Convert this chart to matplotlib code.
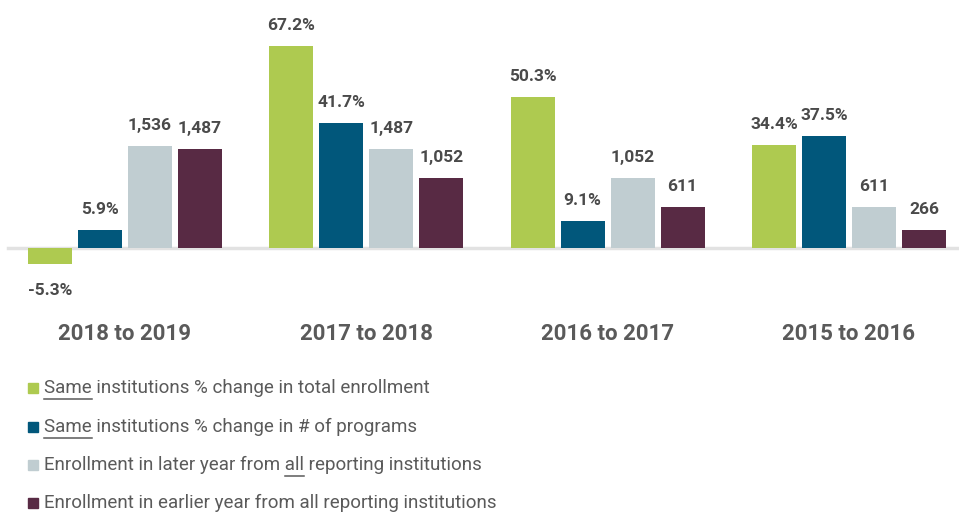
import matplotlib
matplotlib.use("Agg")
import matplotlib.pyplot as plt
import numpy as np

periods = ["2018 to 2019", "2017 to 2018", "2016 to 2017", "2015 to 2016"]
pct_enrollment = [-5.3, 67.2, 50.3, 34.4]
pct_programs = [5.9, 41.7, 9.1, 37.5]
enroll_later = [1536, 1487, 1052, 611]
enroll_earlier = [1487, 1052, 611, 266]

legend_labels = [
    "Same institutions % change in total enrollment",
    "Same institutions % change in # of programs",
    "Enrollment in later year from all reporting institutions",
    "Enrollment in earlier year from all reporting institutions",
]
# (row, word) pairs that get underlined in the legend
underlined = [(0, "Same"), (1, "Same"), (2, "all")]

colors = ["#AECA50", "#01577B", "#C0CDD1", "#582A44"]
label_color = "#4a4a4a"
text_color = "#5a5a5a"

plt.rcParams["font.family"] = ["Roboto", "DejaVu Sans"]

W, H = 959, 514
fig = plt.figure(figsize=(W / 100, H / 100), dpi=100)

# percent axis: 3 px per point, zero line at y=248 px
ax = fig.add_axes([0, (H - 300) / H, 1, 300 / H])
ax.set_ylim(-52 / 3, 248 / 3)
ax.set_xlim(-125 / 241.3, (W - 125) / 241.3)
ax.axis("off")

# counts share the same baseline, 45 students per percent point
ratio = 45
ax2 = ax.twinx()
ax2.set_ylim(ax.get_ylim()[0] * ratio, ax.get_ylim()[1] * ratio)
ax2.axis("off")

x = np.arange(len(periods))
width = 44 / 241.3
step = 50 / 241.3
offsets = [-1.5 * step, -0.5 * step, 0.5 * step, 1.5 * step]

ax.axhline(0, xmin=8 / W, xmax=1, color="#e2e2e2", lw=2.5, zorder=0)

series = [
    (ax, pct_enrollment, lambda v: f"{v:.1f}%"),
    (ax, pct_programs, lambda v: f"{v:.1f}%"),
    (ax2, enroll_later, lambda v: f"{v:,}"),
    (ax2, enroll_earlier, lambda v: f"{v:,}"),
]

for i, (a, vals, fmt) in enumerate(series):
    bars = a.bar(x + offsets[i], vals, width, color=colors[i], zorder=2)
    for b, v in zip(bars, vals):
        cx = b.get_x() + b.get_width() / 2
        if v >= 0:
            a.annotate(fmt(v), (cx, v), xytext=(0, 11.5), textcoords="offset points",
                       ha="center", va="baseline", fontsize=12.5,
                       fontweight="bold", color=label_color)
        else:
            a.annotate(fmt(v), (cx, v), xytext=(0, -14), textcoords="offset points",
                       ha="center", va="top", fontsize=12.5,
                       fontweight="bold", color=label_color)

# period names under each group
for xi, name in zip(x, periods):
    ax.text(xi, -(334 - 248) / 3, name, ha="center", va="center",
            fontsize=16, fontweight="bold", color=text_color)

# legend drawn by hand so words can be underlined
rows_y = [388, 427, 465, 503]
tx0 = 44
fs = 13.5
fig.canvas.draw()
renderer = fig.canvas.get_renderer()
for i, (label, yy) in enumerate(zip(legend_labels, rows_y)):
    fig.patches.append(plt.Rectangle((28 / W, 1 - (yy + 5) / H), 10 / W, 10 / H,
                                     transform=fig.transFigure, color=colors[i]))
    t = fig.text(tx0 / W, 1 - yy / H, label, ha="left", va="center",
                 fontsize=fs, color=text_color)
    for row, word in underlined:
        if row != i:
            continue
        end = label.index(word) + len(word)
        probe = fig.text(tx0 / W, 1 - yy / H, label[:end], ha="left", va="center",
                         fontsize=fs, color=text_color)
        wprobe = fig.text(0, 0, word, fontsize=fs)
        bb = probe.get_window_extent(renderer)
        wb = wprobe.get_window_extent(renderer)
        probe.remove()
        wprobe.remove()
        x1 = bb.x1
        x0 = x1 - wb.width
        uy = bb.y0 - 1.5
        fig.add_artist(plt.Line2D([x0 / W, x1 / W], [uy / H, uy / H],
                                  transform=fig.transFigure, color=text_color, lw=1.1))

fig.savefig("out.png", dpi=100)
